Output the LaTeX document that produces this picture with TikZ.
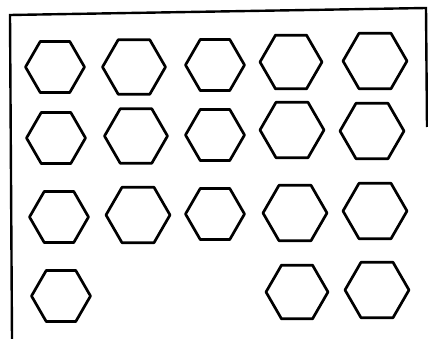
\documentclass[tikz,border=0pt]{standalone}
\usetikzlibrary{shapes.geometric}
\begin{document}
\begin{tikzpicture}[x=1pt,y=-1pt,
  hexa/.style={draw=black,line width=2.7pt,line join=round,regular polygon,regular polygon sides=6,minimum size=59pt,inner sep=0pt,outer sep=0pt},
  frame/.style={draw=black,line width=2.4pt}]
\useasboundingbox (0,0) rectangle (428,339);
% frame
\coordinate (bl) at (12,339);
\coordinate (tl) at (10,15);
\coordinate (tr) at (426,8);
\coordinate (br) at (427,127);
\draw[frame] (bl) -- (tl) -- (tr) -- (br);
% row 1
\node[hexa] (h11) at (55,67) {};
\node[hexa,minimum size=63pt] (h12) at (134,67) {};
\node[hexa] (h13) at (215,65) {};
\node[hexa,minimum size=62pt] (h14) at (291,62) {};
\node[hexa,minimum size=64pt] (h15) at (375,61) {};
% row 2
\node[hexa] (h21) at (56,138) {};
\node[hexa,minimum size=63pt] (h22) at (136,136) {};
\node[hexa] (h23) at (215,135) {};
\node[hexa,minimum size=64pt] (h24) at (292,130) {};
\node[hexa,minimum size=64pt] (h25) at (372,131) {};
% row 3
\node[hexa] (h31) at (59,217) {};
\node[hexa,minimum size=64pt] (h32) at (138,215) {};
\node[hexa] (h33) at (215,214) {};
\node[hexa,minimum size=64pt] (h34) at (295,213) {};
\node[hexa,minimum size=64pt] (h35) at (375,211) {};
% row 4
\node[hexa] (h41) at (61,296) {};
\node[hexa,minimum size=62pt] (h44) at (297,292) {};
\node[hexa,minimum size=64pt] (h45) at (377,290) {};
\end{tikzpicture}
\end{document}
